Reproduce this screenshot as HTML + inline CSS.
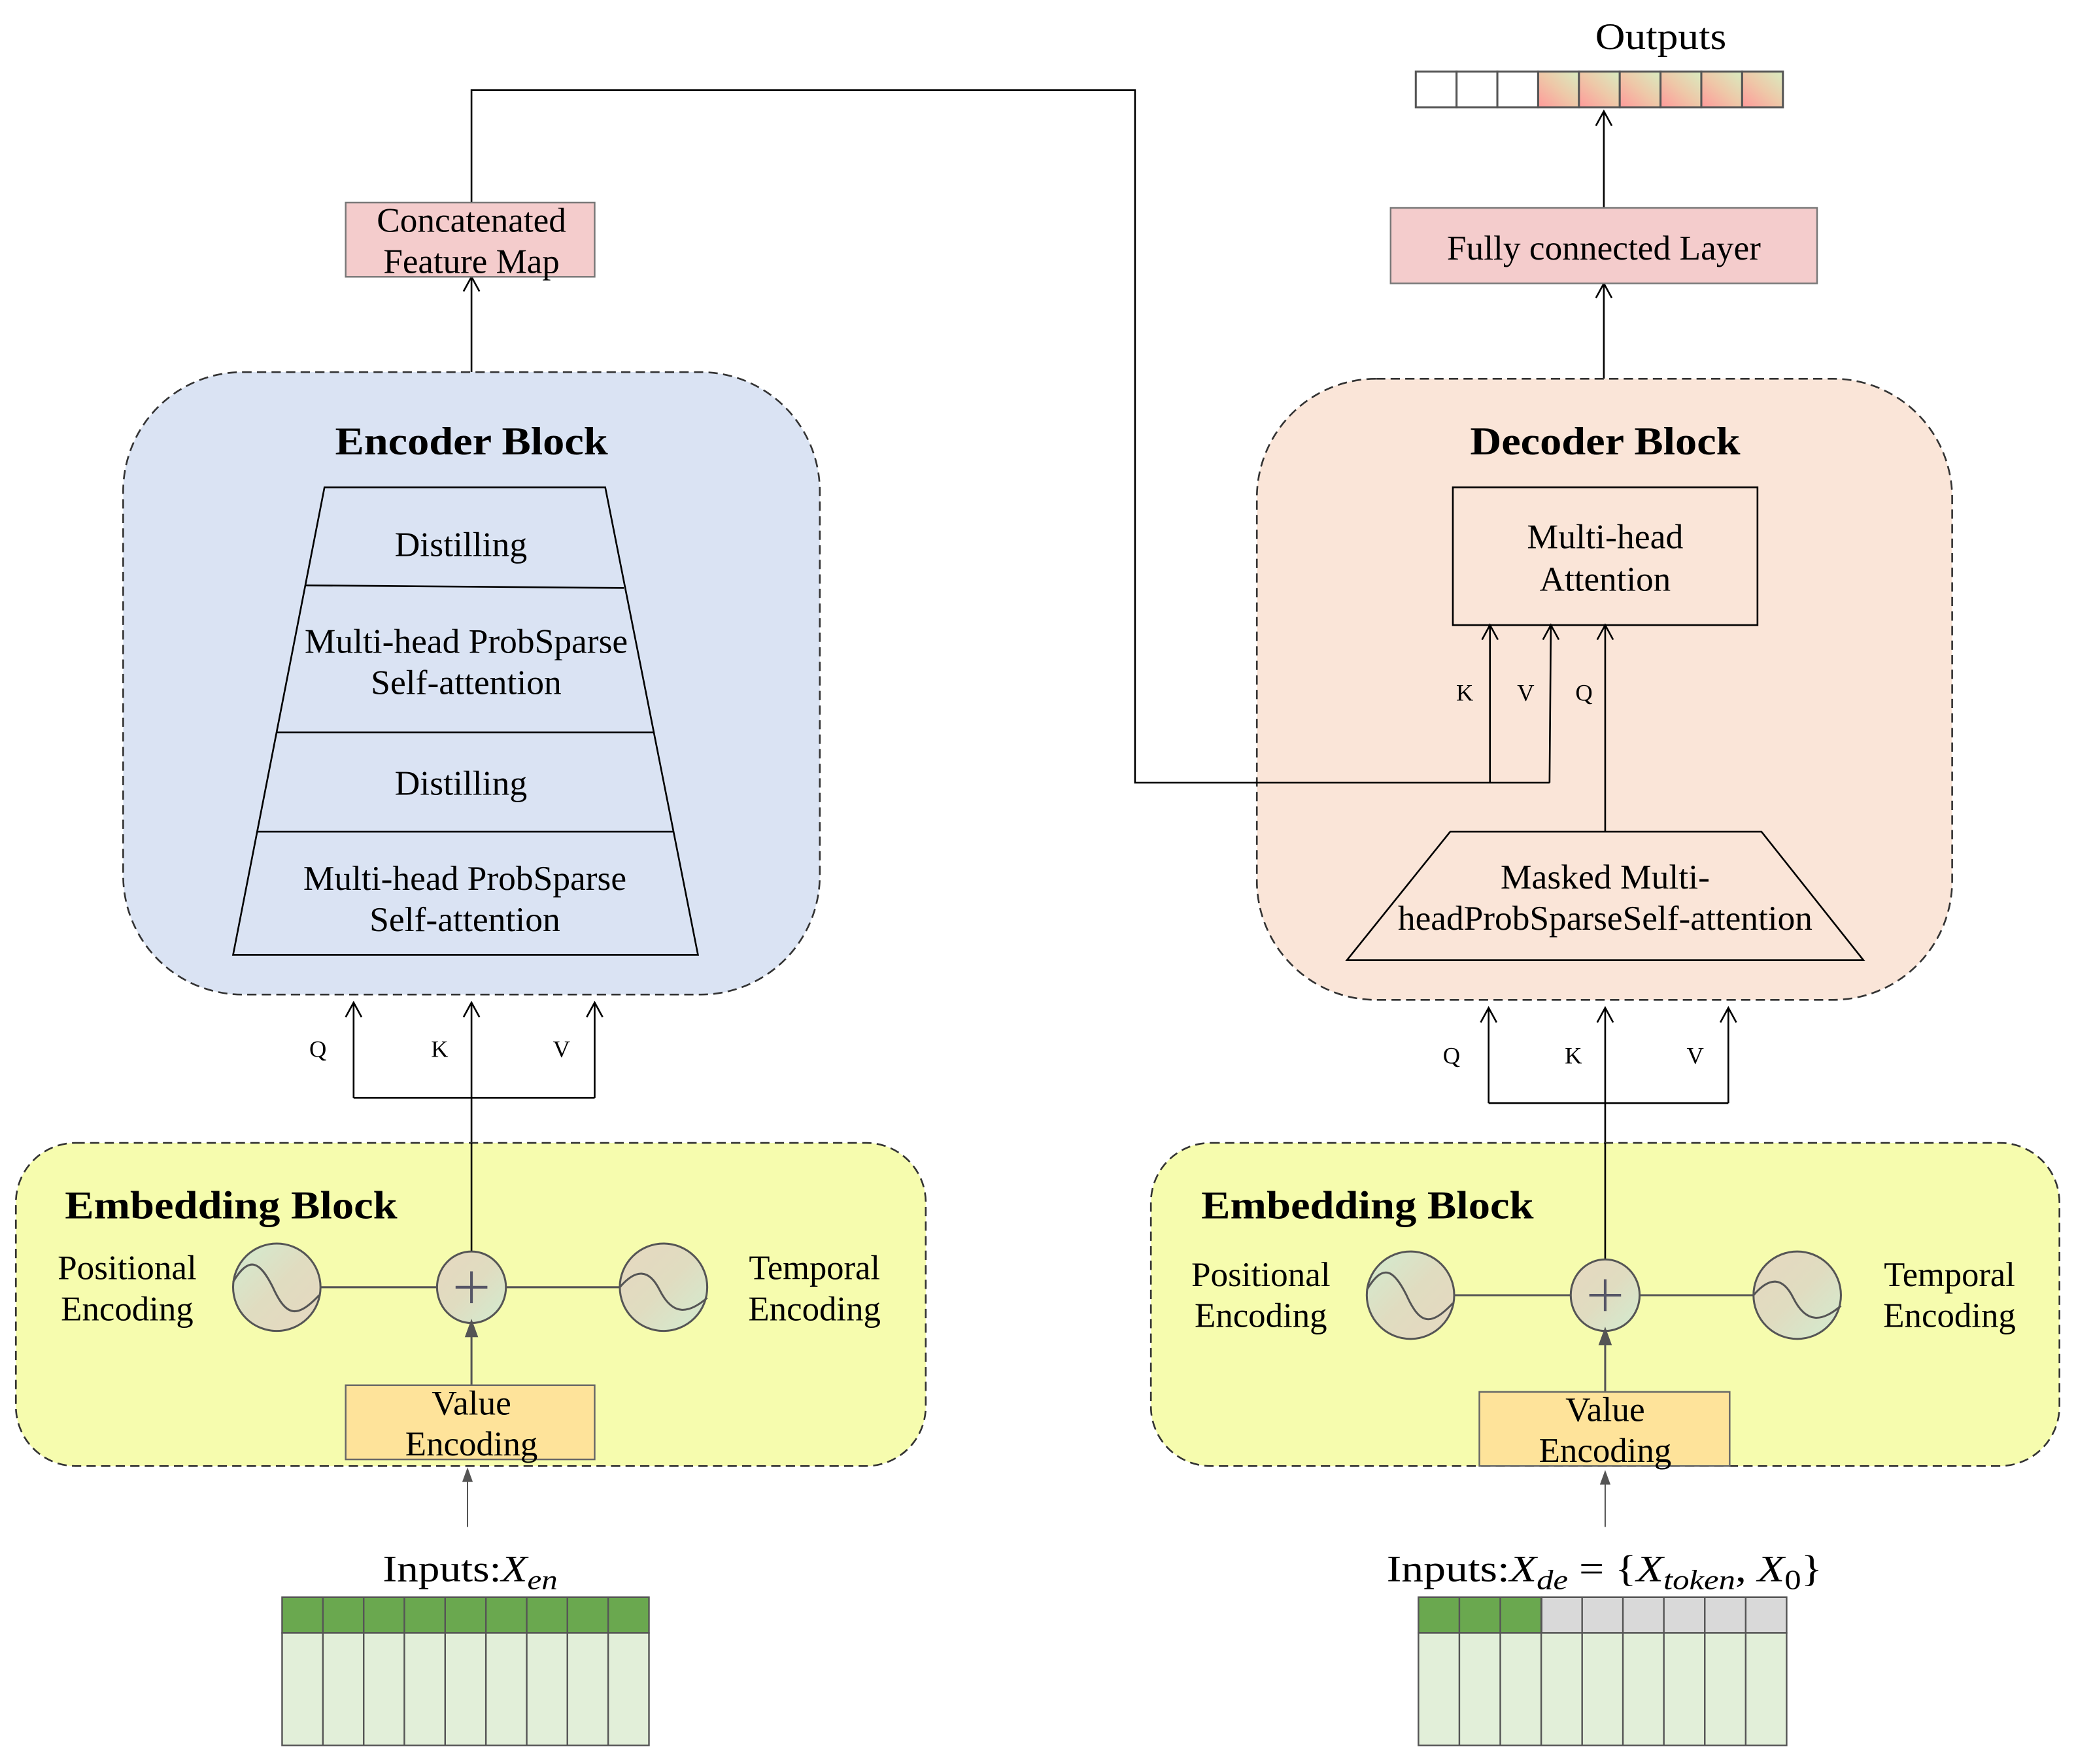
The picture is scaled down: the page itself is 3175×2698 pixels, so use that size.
<!DOCTYPE html>
<html><head><meta charset="utf-8"><style>html,body{margin:0;padding:0;background:#fff}svg{display:block}</style></head>
<body>
<svg width="3175" height="2698" viewBox="0 0 1567.5 1332" preserveAspectRatio="none" xmlns="http://www.w3.org/2000/svg" font-family="'Liberation Serif', serif">
<defs>
<linearGradient id="og" x1="0" y1="1" x2="1" y2="0"><stop offset="0" stop-color="#ff9a9a"/><stop offset="0.5" stop-color="#eec8a8"/><stop offset="1" stop-color="#d8ecc0"/></linearGradient>
<linearGradient id="cg" x1="0" y1="0" x2="1" y2="1"><stop offset="0" stop-color="#d2ecd0"/><stop offset="0.5" stop-color="#e0dcc0"/><stop offset="1" stop-color="#e6d8c0"/></linearGradient>
<linearGradient id="cg2" x1="0" y1="0" x2="1" y2="1"><stop offset="0" stop-color="#e6d8c0"/><stop offset="0.5" stop-color="#e0dcc0"/><stop offset="1" stop-color="#d2ecd0"/></linearGradient>
</defs>
<g font-size="26" fill="#000" text-anchor="middle">
<text x="1254" y="37" font-size="28" textLength="99" lengthAdjust="spacingAndGlyphs">Outputs</text>
<g stroke="#555" stroke-width="1.5">
<rect x="1069" y="54" width="30.8" height="27" fill="#fff"/>
<rect x="1099.8" y="54" width="30.8" height="27" fill="#fff"/>
<rect x="1130.6" y="54" width="30.8" height="27" fill="#fff"/>
<rect x="1161.4" y="54" width="30.8" height="27" fill="url(#og)"/>
<rect x="1192.2" y="54" width="30.8" height="27" fill="url(#og)"/>
<rect x="1223" y="54" width="30.8" height="27" fill="url(#og)"/>
<rect x="1253.8" y="54" width="30.8" height="27" fill="url(#og)"/>
<rect x="1284.6" y="54" width="30.8" height="27" fill="url(#og)"/>
<rect x="1315.4" y="54" width="30.8" height="27" fill="url(#og)"/>
</g>
<g stroke="#000" stroke-width="1.3" fill="none">
<path d="M1211 157 L1211 84 M1205 95 L1211 84 L1217 95"/>
<path d="M1211 286 L1211 214 M1205 225 L1211 214 L1217 225"/>
<path d="M356 281 L356 209 M350 220 L356 209 L362 220"/>
<path d="M356 153 L356 68 L857 68 L857 591 L949 591"/>
</g>
<rect x="1050" y="157" width="322" height="57" fill="#f4cccc" stroke="#777" stroke-width="1.2"/>
<text x="1211" y="196" textLength="237" lengthAdjust="spacingAndGlyphs">Fully connected Layer</text>
<rect x="261" y="153" width="188" height="56" fill="#f4cccc" stroke="#777" stroke-width="1.2"/>
<text x="356" y="175" textLength="143" lengthAdjust="spacingAndGlyphs">Concatenated</text>
<text x="356" y="206" textLength="133" lengthAdjust="spacingAndGlyphs">Feature Map</text>

<rect x="93" y="281" width="526" height="470" rx="90" fill="#dae3f3" stroke="#333" stroke-width="1.3" stroke-dasharray="7 4"/>
<text x="356" y="343" font-weight="bold" font-size="30" textLength="206" lengthAdjust="spacingAndGlyphs">Encoder Block</text>
<polygon points="245,368 457,368 527,721 176,721" fill="#dae3f3" stroke="#000" stroke-width="1.3"/>
<g stroke="#000" stroke-width="1.3"><line x1="231" y1="442" x2="471" y2="444"/><line x1="209" y1="553" x2="494" y2="553"/><line x1="194" y1="628" x2="509" y2="628"/></g>
<text x="348" y="420" textLength="100" lengthAdjust="spacingAndGlyphs">Distilling</text>
<text x="352" y="493" textLength="244" lengthAdjust="spacingAndGlyphs">Multi-head ProbSparse</text>
<text x="352" y="524" textLength="144" lengthAdjust="spacingAndGlyphs">Self-attention</text>
<text x="348" y="600" textLength="100" lengthAdjust="spacingAndGlyphs">Distilling</text>
<text x="351" y="672" textLength="244" lengthAdjust="spacingAndGlyphs">Multi-head ProbSparse</text>
<text x="351" y="703" textLength="144" lengthAdjust="spacingAndGlyphs">Self-attention</text>

<g stroke="#000" stroke-width="1.3" fill="none">
<path d="M267 829 L267 757 M261 768 L267 757 L273 768"/>
<path d="M449 829 L449 757 M443 768 L449 757 L455 768"/>
<path d="M356 946 L356 757 M350 768 L356 757 L362 768"/>
<path d="M267 829 L449 829"/>
</g>
<text x="240" y="798" font-size="18">Q</text>
<text x="332" y="798" font-size="18">K</text>
<text x="424" y="798" font-size="18">V</text>

<rect x="949" y="286" width="525" height="469" rx="90" fill="#fae5d8" stroke="#333" stroke-width="1.3" stroke-dasharray="7 4"/>
<text x="1212" y="343" font-weight="bold" font-size="30" textLength="204" lengthAdjust="spacingAndGlyphs">Decoder Block</text>
<rect x="1097" y="368" width="230" height="104" fill="#fae5d8" stroke="#000" stroke-width="1.3"/>
<text x="1212" y="414" textLength="118" lengthAdjust="spacingAndGlyphs">Multi-head</text>
<text x="1212" y="446" textLength="99" lengthAdjust="spacingAndGlyphs">Attention</text>
<polygon points="1095,628 1330,628 1407,725 1017,725" fill="#fae5d8" stroke="#000" stroke-width="1.3"/>
<text x="1212" y="671" textLength="158" lengthAdjust="spacingAndGlyphs">Masked Multi-</text>
<text x="1212" y="702" textLength="313" lengthAdjust="spacingAndGlyphs">headProbSparseSelf-attention</text>
<g stroke="#000" stroke-width="1.3" fill="none">
<path d="M948 591 L1170 591"/>
<path d="M1125 591 L1125 472 M1119 483 L1125 472 L1131 483"/>
<path d="M1170 591 L1171 472 M1165 483 L1171 472 L1177 483"/>
<path d="M1212 628 L1212 472 M1206 483 L1212 472 L1218 483"/>
</g>
<text x="1106" y="529" font-size="18">K</text>
<text x="1152" y="529" font-size="18">V</text>
<text x="1196" y="529" font-size="18">Q</text>

<g stroke="#000" stroke-width="1.3" fill="none">
<path d="M1124 833 L1124 761 M1118 772 L1124 761 L1130 772"/>
<path d="M1305 833 L1305 761 M1299 772 L1305 761 L1311 772"/>
<path d="M1212 952 L1212 761 M1206 772 L1212 761 L1218 772"/>
<path d="M1124 833 L1305 833"/>
</g>
<text x="1096" y="803" font-size="18">Q</text>
<text x="1188" y="803" font-size="18">K</text>
<text x="1280" y="803" font-size="18">V</text>

<rect x="12" y="863" width="687" height="244" rx="45" fill="#f6fcae" stroke="#333" stroke-width="1.3" stroke-dasharray="7 4"/>
<rect x="869" y="863" width="686" height="244" rx="45" fill="#f6fcae" stroke="#333" stroke-width="1.3" stroke-dasharray="7 4"/>
<line x1="356" y1="863" x2="356" y2="946" stroke="#000" stroke-width="1.3"/>
<line x1="1212" y1="863" x2="1212" y2="952" stroke="#000" stroke-width="1.3"/>
<text x="49" y="920" text-anchor="start" font-weight="bold" font-size="30" textLength="251" lengthAdjust="spacingAndGlyphs">Embedding Block</text>
<text x="907" y="920" text-anchor="start" font-weight="bold" font-size="30" textLength="251" lengthAdjust="spacingAndGlyphs">Embedding Block</text>

<g stroke="#555" stroke-width="1.5">
<line x1="242" y1="972" x2="330" y2="972"/><line x1="382" y1="972" x2="468" y2="972"/>
<ellipse cx="209" cy="972" rx="33" ry="33" fill="url(#cg)"/>
<ellipse cx="501" cy="972" rx="33" ry="33" fill="url(#cg2)"/>
<ellipse cx="356" cy="972" rx="26" ry="27" fill="url(#cg2)"/>
<path d="M176 968 C188 948 196 952 206 972 C216 994 224 996 241 978" fill="none"/>
<path d="M468 972 C480 958 490 958 498 974 C508 994 520 992 534 980" fill="none"/>
<path d="M344 972 L368 972 M356 960 L356 984" stroke="#556" stroke-width="2"/>
<path d="M356 1046 L356 1008" fill="none"/>
<polygon points="356,998 352,1009 360,1009" fill="#555"/>
<path d="M353 1153 L353 1118" fill="none" stroke-width="1"/>
<polygon points="353,1108 349,1119 357,1119" fill="#555" stroke="none"/>
</g>
<text x="96" y="966" textLength="105" lengthAdjust="spacingAndGlyphs">Positional</text>
<text x="96" y="997" textLength="100" lengthAdjust="spacingAndGlyphs">Encoding</text>
<text x="615" y="966" textLength="99" lengthAdjust="spacingAndGlyphs">Temporal</text>
<text x="615" y="997" textLength="100" lengthAdjust="spacingAndGlyphs">Encoding</text>
<rect x="261" y="1046" width="188" height="56" fill="#fee39a" stroke="#666" stroke-width="1.2"/>
<text x="356" y="1068" textLength="60" lengthAdjust="spacingAndGlyphs">Value</text>
<text x="356" y="1099" textLength="100" lengthAdjust="spacingAndGlyphs">Encoding</text>

<g stroke="#555" stroke-width="1.5">
<line x1="1098" y1="978" x2="1186" y2="978"/><line x1="1238" y1="978" x2="1324" y2="978"/>
<ellipse cx="1065" cy="978" rx="33" ry="33" fill="url(#cg)"/>
<ellipse cx="1357" cy="978" rx="33" ry="33" fill="url(#cg2)"/>
<ellipse cx="1212" cy="978" rx="26" ry="27" fill="url(#cg2)"/>
<path d="M1032 974 C1044 954 1052 958 1062 978 C1072 1000 1080 1002 1097 984" fill="none"/>
<path d="M1324 978 C1336 964 1346 964 1354 980 C1364 1000 1376 998 1390 986" fill="none"/>
<path d="M1200 978 L1224 978 M1212 966 L1212 990" stroke="#556" stroke-width="2"/>
<path d="M1212 1051 L1212 1014" fill="none"/>
<polygon points="1212,1004 1208,1015 1216,1015" fill="#555"/>
<path d="M1212 1153 L1212 1120" fill="none" stroke-width="1"/>
<polygon points="1212,1110 1208,1121 1216,1121" fill="#555" stroke="none"/>
</g>
<text x="952" y="971" textLength="105" lengthAdjust="spacingAndGlyphs">Positional</text>
<text x="952" y="1002" textLength="100" lengthAdjust="spacingAndGlyphs">Encoding</text>
<text x="1472" y="971" textLength="99" lengthAdjust="spacingAndGlyphs">Temporal</text>
<text x="1472" y="1002" textLength="100" lengthAdjust="spacingAndGlyphs">Encoding</text>
<rect x="1117" y="1051" width="189" height="56" fill="#fee39a" stroke="#666" stroke-width="1.2"/>
<text x="1212" y="1073" textLength="60" lengthAdjust="spacingAndGlyphs">Value</text>
<text x="1212" y="1104" textLength="100" lengthAdjust="spacingAndGlyphs">Encoding</text>

<text x="289" y="1194" text-anchor="start" font-size="28" textLength="132" lengthAdjust="spacingAndGlyphs">Inputs:<tspan font-style="italic">X</tspan><tspan font-style="italic" font-size="21" dy="6">en</tspan></text>
<text x="1047" y="1194" text-anchor="start" font-size="28" textLength="329" lengthAdjust="spacingAndGlyphs">Inputs:<tspan font-style="italic">X</tspan><tspan font-style="italic" font-size="21" dy="6">de</tspan><tspan dy="-6"> = {</tspan><tspan font-style="italic">X</tspan><tspan font-style="italic" font-size="21" dy="6">token</tspan><tspan dy="-6">, </tspan><tspan font-style="italic">X</tspan><tspan font-size="21" dy="6">0</tspan><tspan dy="-6">}</tspan></text>

<g stroke="#555" stroke-width="1.2">
<rect x="213" y="1206" width="277" height="27" fill="#6aa84f"/>
<rect x="213" y="1233" width="277" height="85" fill="#e2efd9"/>
<rect x="1071" y="1206" width="93" height="27" fill="#6aa84f"/>
<rect x="1164" y="1206" width="185" height="27" fill="#d9d9d9"/>
<rect x="1071" y="1233" width="278" height="85" fill="#e2efd9"/>
<path d="M243.8 1206V1318M274.6 1206V1318M305.3 1206V1318M336.1 1206V1318M366.9 1206V1318M397.7 1206V1318M428.4 1206V1318M459.2 1206V1318"/>
<path d="M1101.9 1206V1318M1132.8 1206V1318M1163.7 1206V1318M1194.6 1206V1318M1225.4 1206V1318M1256.3 1206V1318M1287.2 1206V1318M1318.1 1206V1318"/>
</g>
</g>
</svg>
</body></html>
